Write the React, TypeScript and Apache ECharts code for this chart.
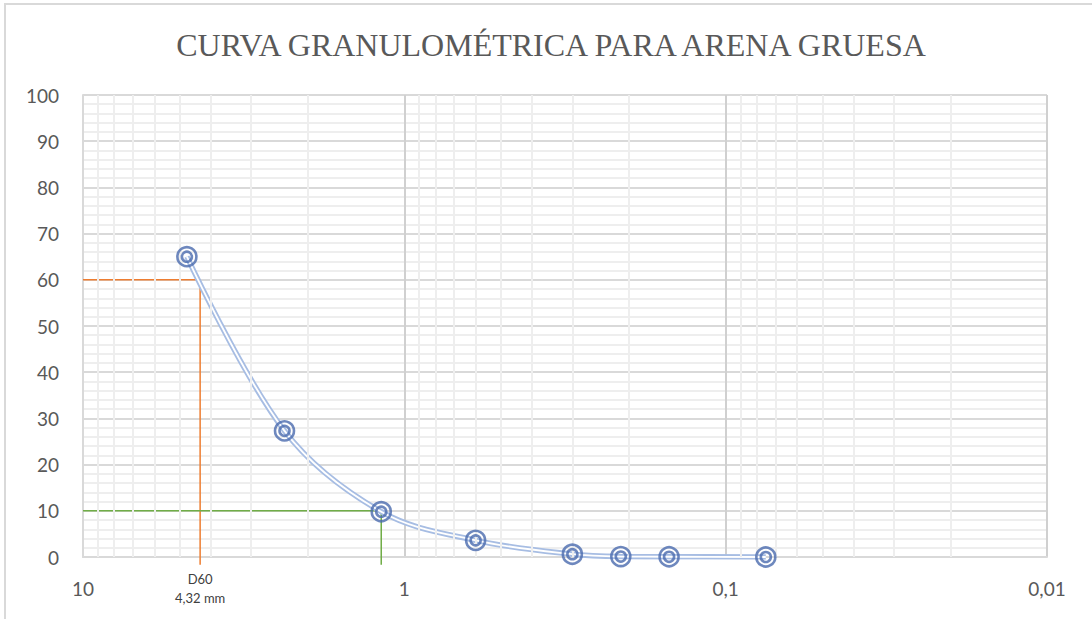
import React, { useEffect, useRef } from "react";
import * as echarts from "echarts";

const title = "CURVA GRANULOMÉTRICA PARA ARENA GRUESA";
const sieveSizes = [4.75, 2.36, 1.18, 0.6, 0.3, 0.212, 0.15, 0.075];
const passing = [65, 27.3, 9.8, 3.6, 0.6, 0.1, 0.05, 0];
const d60 = 4.32;
const d60Label = "D60\n4,32 mm";
const d10 = 1.18;
const minorMultipliers = [2, 3, 4, 5, 6, 7, 8, 9];
const decades = [0.01, 0.1, 1];

const fmt = (v: number) => String(+v.toPrecision(3)).replace(".", ",");

export default function App() {
  const ref = useRef<HTMLDivElement>(null);
  useEffect(() => {
    const chart = echarts.init(ref.current!, null, { renderer: "svg" });
    const pts = sieveSizes.map((s, i) => [s, passing[i]]);
    const minorX: number[] = [];
    decades.forEach((d) => minorMultipliers.forEach((m) => minorX.push(+(d * m).toPrecision(3))));
    const blue = "#4a6aae";
    chart.setOption({
      animation: false,
      backgroundColor: "#fff",
      graphic: [
        {
          type: "rect",
          shape: { x: 5, y: 4, width: 1200, height: 700 },
          style: { fill: "none", stroke: "#d9d9d9", lineWidth: 2 },
          silent: true,
        },
        {
          type: "text",
          x: 551,
          y: 45,
          silent: true,
          style: {
            text: title,
            font: "normal 32px 'Liberation Serif', 'Times New Roman', serif",
            fill: "#595959",
            align: "center",
            verticalAlign: "middle",
          },
        },
      ],
      grid: { left: 83, right: 45, top: 95, bottom: 62 },
      xAxis: {
        type: "log",
        logBase: 10,
        min: 0.01,
        max: 10,
        inverse: true,
        axisLine: { show: true, lineStyle: { color: "#d9d9d9", width: 2 } },
        axisTick: { show: false },
        axisLabel: {
          formatter: (v: number) => fmt(v),
          fontFamily: "Lato",
          fontSize: 19,
          color: "#595959",
          margin: 22,
        },
        splitLine: { show: true, lineStyle: { color: "#d0d0d0", width: 2 } },
      },
      yAxis: {
        type: "value",
        min: 0,
        max: 100,
        interval: 10,
        axisLine: { show: true, lineStyle: { color: "#d9d9d9", width: 2 } },
        axisTick: { show: false },
        axisLabel: {
          fontFamily: "Lato",
          fontSize: 19,
          color: "#595959",
          margin: 24,
        },
        splitLine: { show: true, lineStyle: { color: "#d9d9d9", width: 2 } },
        minorTick: { show: false, splitNumber: 5 },
        minorSplitLine: { show: true, lineStyle: { color: "#eeeeee", width: 2 } },
      },
      series: [
        {
          type: "line",
          data: [],
          silent: true,
          markLine: {
            silent: true,
            symbol: "none",
            label: { show: false },
            lineStyle: { color: "#eeeeee", width: 2, type: "solid" },
            data: minorX.map((x) => ({ xAxis: x })),
          },
          z: 1,
        },
        {
          type: "line",
          data: [[10, 60], [d60, 60], [d60, -1.7]],
          clip: false,
          showSymbol: false,
          lineStyle: { color: "#ed7d31", width: 1.5 },
          z: 2,
          markPoint: {
            symbol: "circle",
            symbolSize: 0,
            data: [{ coord: [d60, 0] }],
            label: {
              show: true,
              formatter: d60Label,
              offset: [0, 31],
              fontFamily: "Lato",
              fontSize: 13,
              lineHeight: 19,
              color: "#404040",
            },
          },
        },
        {
          type: "line",
          data: [[10, 10], [d10, 10], [d10, -1.7]],
          clip: false,
          showSymbol: false,
          lineStyle: { color: "#70ad47", width: 1.5 },
          z: 2,
        },
        {
          type: "line",
          data: pts,
          smooth: 0.35,
          showSymbol: false,
          lineStyle: { color: "#a7bde3", width: 5.5 },
          z: 3,
        },
        {
          type: "line",
          data: pts,
          smooth: 0.35,
          showSymbol: false,
          lineStyle: { color: "#ffffff", width: 1.8 },
          z: 4,
        },
        {
          type: "scatter",
          data: pts,
          symbol: "circle",
          symbolSize: 19,
          itemStyle: { color: "rgba(255,255,255,0)", borderColor: blue, borderWidth: 2.6 },
          z: 5,
        },
        {
          type: "scatter",
          data: pts,
          symbol: "circle",
          symbolSize: 10,
          itemStyle: { color: "rgba(255,255,255,0)", borderColor: blue, borderWidth: 2.6 },
          z: 6,
        },
      ],
    });
    return () => chart.dispose();
  }, []);
  return <div ref={ref} style={{ width: 1092, height: 619, position: "absolute", left: 0, top: 0 }} />;
}
